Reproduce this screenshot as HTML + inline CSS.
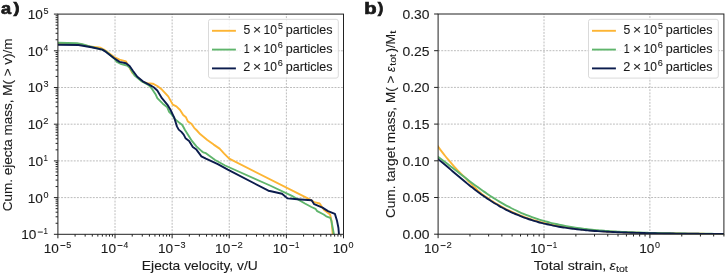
<!DOCTYPE html>
<html><head><meta charset="utf-8"><style>html,body{margin:0;padding:0;background:#fff;width:725px;height:274px;overflow:hidden}svg{display:block;filter:blur(0.3px)}</style></head><body>
<svg width="725" height="274" viewBox="0 0 725 274">
<style>text{font-family:"Liberation Sans",sans-serif;fill:#1a1a1a;stroke:#1a1a1a;stroke-width:0.1px}.b{stroke-width:0.7px}.g{stroke:#b4b4b4;stroke-width:0.9;stroke-dasharray:1.9 1.28}.s{stroke:#222222;stroke-width:1.0}</style>
<rect width="725" height="274" fill="#fff"/>
<defs><clipPath id="ca"><rect x="57.90" y="14.10" width="285.60" height="220.20"/></clipPath>
<clipPath id="cb"><rect x="438.10" y="14.00" width="285.80" height="220.20"/></clipPath></defs>
<line x1="115.02" y1="234.30" x2="115.02" y2="14.10" class="g"/>
<line x1="172.14" y1="234.30" x2="172.14" y2="14.10" class="g"/>
<line x1="229.26" y1="234.30" x2="229.26" y2="14.10" class="g"/>
<line x1="286.38" y1="234.30" x2="286.38" y2="14.10" class="g"/>
<line x1="57.90" y1="50.80" x2="343.50" y2="50.80" class="g"/>
<line x1="57.90" y1="87.50" x2="343.50" y2="87.50" class="g"/>
<line x1="57.90" y1="124.20" x2="343.50" y2="124.20" class="g"/>
<line x1="57.90" y1="160.90" x2="343.50" y2="160.90" class="g"/>
<line x1="57.90" y1="197.60" x2="343.50" y2="197.60" class="g"/>
<path d="M58.00,43.60 L80.00,44.20 L89.60,46.40 L100.60,47.80 L104.00,49.50 L114.20,57.00 L119.60,59.60 L126.00,61.40 L132.30,72.80 L142.80,81.90 L147.30,83.20 L152.80,83.70 L157.30,86.00 L161.90,89.60 L168.20,96.40 L172.80,104.60 L176.40,106.40 L180.10,110.00 L183.20,115.00 L186.00,117.30 L187.80,121.40 L191.40,123.70 L194.20,127.80 L196.90,130.50 L200.10,134.10 L207.30,140.00 L213.70,144.60 L219.60,148.60 L224.20,153.70 L229.20,158.70 L308.30,198.60 L314.20,202.10 L319.70,203.50 L323.90,209.70 L330.10,214.50 L331.50,220.80 L332.90,236.00" fill="none" stroke="#fdb534" stroke-width="1.90" stroke-linejoin="round" clip-path="url(#ca)"/>
<path d="M58.00,42.70 L76.90,43.20 L82.30,44.10 L88.00,46.00 L102.40,49.60 L106.00,51.50 L114.20,58.50 L116.90,61.90 L121.40,64.10 L126.90,65.50 L129.60,67.50 L134.60,75.50 L141.90,81.40 L149.10,85.50 L151.90,88.70 L155.50,94.20 L157.30,98.20 L162.80,103.70 L167.30,107.30 L169.10,111.90 L171.90,114.60 L175.00,119.10 L178.70,122.30 L182.30,125.00 L185.00,130.00 L189.10,136.40 L191.90,140.90 L196.40,146.40 L201.90,151.40 L203.20,152.30 L205.90,153.20 L215.10,160.00 L225.10,165.50 L270.00,185.50 L291.90,195.90 L304.90,203.50 L311.40,207.00 L315.50,208.80 L317.20,211.20 L323.70,214.50 L326.20,216.30 L330.30,217.80 L331.50,221.30 L334.20,236.00" fill="none" stroke="#5fb56c" stroke-width="1.90" stroke-linejoin="round" clip-path="url(#ca)"/>
<path d="M58.00,44.70 L78.50,45.00 L91.50,47.30 L102.40,49.60 L106.00,51.90 L114.20,58.20 L119.60,61.90 L126.00,63.20 L129.60,66.00 L132.70,70.50 L137.30,76.80 L143.70,81.90 L149.10,84.60 L153.70,87.30 L157.30,90.50 L161.90,98.20 L167.30,104.60 L170.30,109.50 L174.10,117.30 L176.90,126.40 L178.70,129.60 L181.40,131.90 L183.70,134.60 L185.50,138.20 L189.10,140.90 L192.80,146.90 L196.40,149.60 L200.10,154.60 L201.40,156.40 L205.90,158.70 L217.80,164.10 L227.80,169.60 L268.40,190.70 L271.00,191.30 L282.00,193.70 L287.50,198.40 L297.40,199.20 L311.60,200.30 L314.20,204.20 L322.50,207.60 L328.00,211.10 L334.90,213.90 L337.00,220.80 L338.40,227.70 L339.10,236.00" fill="none" stroke="#0b1c4d" stroke-width="1.90" stroke-linejoin="round" clip-path="url(#ca)"/>
<rect x="57.90" y="14.10" width="285.60" height="220.20" fill="none" class="s"/>
<line x1="57.90" y1="234.30" x2="57.90" y2="238.30" class="s"/>
<line x1="75.09" y1="234.30" x2="75.09" y2="236.60" class="s"/>
<line x1="85.15" y1="234.30" x2="85.15" y2="236.60" class="s"/>
<line x1="92.29" y1="234.30" x2="92.29" y2="236.60" class="s"/>
<line x1="97.83" y1="234.30" x2="97.83" y2="236.60" class="s"/>
<line x1="102.35" y1="234.30" x2="102.35" y2="236.60" class="s"/>
<line x1="106.17" y1="234.30" x2="106.17" y2="236.60" class="s"/>
<line x1="109.48" y1="234.30" x2="109.48" y2="236.60" class="s"/>
<line x1="112.41" y1="234.30" x2="112.41" y2="236.60" class="s"/>
<line x1="115.02" y1="234.30" x2="115.02" y2="238.30" class="s"/>
<line x1="132.21" y1="234.30" x2="132.21" y2="236.60" class="s"/>
<line x1="142.27" y1="234.30" x2="142.27" y2="236.60" class="s"/>
<line x1="149.41" y1="234.30" x2="149.41" y2="236.60" class="s"/>
<line x1="154.95" y1="234.30" x2="154.95" y2="236.60" class="s"/>
<line x1="159.47" y1="234.30" x2="159.47" y2="236.60" class="s"/>
<line x1="163.29" y1="234.30" x2="163.29" y2="236.60" class="s"/>
<line x1="166.60" y1="234.30" x2="166.60" y2="236.60" class="s"/>
<line x1="169.53" y1="234.30" x2="169.53" y2="236.60" class="s"/>
<line x1="172.14" y1="234.30" x2="172.14" y2="238.30" class="s"/>
<line x1="189.33" y1="234.30" x2="189.33" y2="236.60" class="s"/>
<line x1="199.39" y1="234.30" x2="199.39" y2="236.60" class="s"/>
<line x1="206.53" y1="234.30" x2="206.53" y2="236.60" class="s"/>
<line x1="212.07" y1="234.30" x2="212.07" y2="236.60" class="s"/>
<line x1="216.59" y1="234.30" x2="216.59" y2="236.60" class="s"/>
<line x1="220.41" y1="234.30" x2="220.41" y2="236.60" class="s"/>
<line x1="223.72" y1="234.30" x2="223.72" y2="236.60" class="s"/>
<line x1="226.65" y1="234.30" x2="226.65" y2="236.60" class="s"/>
<line x1="229.26" y1="234.30" x2="229.26" y2="238.30" class="s"/>
<line x1="246.45" y1="234.30" x2="246.45" y2="236.60" class="s"/>
<line x1="256.51" y1="234.30" x2="256.51" y2="236.60" class="s"/>
<line x1="263.65" y1="234.30" x2="263.65" y2="236.60" class="s"/>
<line x1="269.19" y1="234.30" x2="269.19" y2="236.60" class="s"/>
<line x1="273.71" y1="234.30" x2="273.71" y2="236.60" class="s"/>
<line x1="277.53" y1="234.30" x2="277.53" y2="236.60" class="s"/>
<line x1="280.84" y1="234.30" x2="280.84" y2="236.60" class="s"/>
<line x1="283.77" y1="234.30" x2="283.77" y2="236.60" class="s"/>
<line x1="286.38" y1="234.30" x2="286.38" y2="238.30" class="s"/>
<line x1="303.57" y1="234.30" x2="303.57" y2="236.60" class="s"/>
<line x1="313.63" y1="234.30" x2="313.63" y2="236.60" class="s"/>
<line x1="320.77" y1="234.30" x2="320.77" y2="236.60" class="s"/>
<line x1="326.31" y1="234.30" x2="326.31" y2="236.60" class="s"/>
<line x1="330.83" y1="234.30" x2="330.83" y2="236.60" class="s"/>
<line x1="334.65" y1="234.30" x2="334.65" y2="236.60" class="s"/>
<line x1="337.96" y1="234.30" x2="337.96" y2="236.60" class="s"/>
<line x1="340.89" y1="234.30" x2="340.89" y2="236.60" class="s"/>
<line x1="343.50" y1="234.30" x2="343.50" y2="238.30" class="s"/>
<line x1="53.90" y1="234.30" x2="57.90" y2="234.30" class="s"/>
<line x1="55.60" y1="223.25" x2="57.90" y2="223.25" class="s"/>
<line x1="55.60" y1="216.79" x2="57.90" y2="216.79" class="s"/>
<line x1="55.60" y1="212.20" x2="57.90" y2="212.20" class="s"/>
<line x1="55.60" y1="208.65" x2="57.90" y2="208.65" class="s"/>
<line x1="55.60" y1="205.74" x2="57.90" y2="205.74" class="s"/>
<line x1="55.60" y1="203.28" x2="57.90" y2="203.28" class="s"/>
<line x1="55.60" y1="201.16" x2="57.90" y2="201.16" class="s"/>
<line x1="55.60" y1="199.28" x2="57.90" y2="199.28" class="s"/>
<line x1="53.90" y1="197.60" x2="57.90" y2="197.60" class="s"/>
<line x1="55.60" y1="186.55" x2="57.90" y2="186.55" class="s"/>
<line x1="55.60" y1="180.09" x2="57.90" y2="180.09" class="s"/>
<line x1="55.60" y1="175.50" x2="57.90" y2="175.50" class="s"/>
<line x1="55.60" y1="171.95" x2="57.90" y2="171.95" class="s"/>
<line x1="55.60" y1="169.04" x2="57.90" y2="169.04" class="s"/>
<line x1="55.60" y1="166.58" x2="57.90" y2="166.58" class="s"/>
<line x1="55.60" y1="164.46" x2="57.90" y2="164.46" class="s"/>
<line x1="55.60" y1="162.58" x2="57.90" y2="162.58" class="s"/>
<line x1="53.90" y1="160.90" x2="57.90" y2="160.90" class="s"/>
<line x1="55.60" y1="149.85" x2="57.90" y2="149.85" class="s"/>
<line x1="55.60" y1="143.39" x2="57.90" y2="143.39" class="s"/>
<line x1="55.60" y1="138.80" x2="57.90" y2="138.80" class="s"/>
<line x1="55.60" y1="135.25" x2="57.90" y2="135.25" class="s"/>
<line x1="55.60" y1="132.34" x2="57.90" y2="132.34" class="s"/>
<line x1="55.60" y1="129.88" x2="57.90" y2="129.88" class="s"/>
<line x1="55.60" y1="127.76" x2="57.90" y2="127.76" class="s"/>
<line x1="55.60" y1="125.88" x2="57.90" y2="125.88" class="s"/>
<line x1="53.90" y1="124.20" x2="57.90" y2="124.20" class="s"/>
<line x1="55.60" y1="113.15" x2="57.90" y2="113.15" class="s"/>
<line x1="55.60" y1="106.69" x2="57.90" y2="106.69" class="s"/>
<line x1="55.60" y1="102.10" x2="57.90" y2="102.10" class="s"/>
<line x1="55.60" y1="98.55" x2="57.90" y2="98.55" class="s"/>
<line x1="55.60" y1="95.64" x2="57.90" y2="95.64" class="s"/>
<line x1="55.60" y1="93.18" x2="57.90" y2="93.18" class="s"/>
<line x1="55.60" y1="91.06" x2="57.90" y2="91.06" class="s"/>
<line x1="55.60" y1="89.18" x2="57.90" y2="89.18" class="s"/>
<line x1="53.90" y1="87.50" x2="57.90" y2="87.50" class="s"/>
<line x1="55.60" y1="76.45" x2="57.90" y2="76.45" class="s"/>
<line x1="55.60" y1="69.99" x2="57.90" y2="69.99" class="s"/>
<line x1="55.60" y1="65.40" x2="57.90" y2="65.40" class="s"/>
<line x1="55.60" y1="61.85" x2="57.90" y2="61.85" class="s"/>
<line x1="55.60" y1="58.94" x2="57.90" y2="58.94" class="s"/>
<line x1="55.60" y1="56.48" x2="57.90" y2="56.48" class="s"/>
<line x1="55.60" y1="54.36" x2="57.90" y2="54.36" class="s"/>
<line x1="55.60" y1="52.48" x2="57.90" y2="52.48" class="s"/>
<line x1="53.90" y1="50.80" x2="57.90" y2="50.80" class="s"/>
<line x1="55.60" y1="39.75" x2="57.90" y2="39.75" class="s"/>
<line x1="55.60" y1="33.29" x2="57.90" y2="33.29" class="s"/>
<line x1="55.60" y1="28.70" x2="57.90" y2="28.70" class="s"/>
<line x1="55.60" y1="25.15" x2="57.90" y2="25.15" class="s"/>
<line x1="55.60" y1="22.24" x2="57.90" y2="22.24" class="s"/>
<line x1="55.60" y1="19.78" x2="57.90" y2="19.78" class="s"/>
<line x1="55.60" y1="17.66" x2="57.90" y2="17.66" class="s"/>
<line x1="55.60" y1="15.78" x2="57.90" y2="15.78" class="s"/>
<line x1="53.90" y1="14.10" x2="57.90" y2="14.10" class="s"/>
<text x="43.76" y="252.60" font-size="12.40" textLength="15.17" lengthAdjust="spacingAndGlyphs">10</text>
<rect x="60.40" y="245.00" width="5.00" height="0.95" fill="#1a1a1a"/>
<text x="66.34" y="247.60" font-size="8.90" textLength="5.04" lengthAdjust="spacingAndGlyphs">5</text>
<text x="100.88" y="252.60" font-size="12.40" textLength="15.17" lengthAdjust="spacingAndGlyphs">10</text>
<rect x="117.52" y="245.00" width="5.00" height="0.95" fill="#1a1a1a"/>
<text x="123.62" y="247.60" font-size="8.90" textLength="4.75" lengthAdjust="spacingAndGlyphs">4</text>
<text x="158.00" y="252.60" font-size="12.40" textLength="15.17" lengthAdjust="spacingAndGlyphs">10</text>
<rect x="174.64" y="245.00" width="5.00" height="0.95" fill="#1a1a1a"/>
<text x="180.59" y="247.60" font-size="8.90" textLength="5.04" lengthAdjust="spacingAndGlyphs">3</text>
<text x="215.12" y="252.60" font-size="12.40" textLength="15.17" lengthAdjust="spacingAndGlyphs">10</text>
<rect x="231.76" y="245.00" width="5.00" height="0.95" fill="#1a1a1a"/>
<text x="237.59" y="247.60" font-size="8.90" textLength="5.25" lengthAdjust="spacingAndGlyphs">2</text>
<text x="272.69" y="252.60" font-size="12.40" textLength="15.17" lengthAdjust="spacingAndGlyphs">10</text>
<rect x="289.33" y="245.00" width="5.00" height="0.95" fill="#1a1a1a"/>
<text x="295.03" y="247.60" font-size="8.90" textLength="4.39" lengthAdjust="spacingAndGlyphs">1</text>
<text x="332.81" y="252.60" font-size="12.40" textLength="15.17" lengthAdjust="spacingAndGlyphs">10</text>
<text x="348.50" y="247.60" font-size="8.90" textLength="5.00" lengthAdjust="spacingAndGlyphs">0</text>
<text x="21.16" y="239.20" font-size="12.40" textLength="15.17" lengthAdjust="spacingAndGlyphs">10</text>
<rect x="37.80" y="231.60" width="5.00" height="0.95" fill="#1a1a1a"/>
<text x="43.50" y="234.20" font-size="8.90" textLength="4.39" lengthAdjust="spacingAndGlyphs">1</text>
<text x="27.76" y="202.50" font-size="12.40" textLength="15.17" lengthAdjust="spacingAndGlyphs">10</text>
<text x="43.45" y="197.50" font-size="8.90" textLength="5.00" lengthAdjust="spacingAndGlyphs">0</text>
<text x="28.06" y="165.80" font-size="12.40" textLength="15.17" lengthAdjust="spacingAndGlyphs">10</text>
<text x="43.50" y="160.80" font-size="8.90" textLength="4.39" lengthAdjust="spacingAndGlyphs">1</text>
<text x="27.76" y="129.10" font-size="12.40" textLength="15.17" lengthAdjust="spacingAndGlyphs">10</text>
<text x="43.33" y="124.10" font-size="8.90" textLength="5.25" lengthAdjust="spacingAndGlyphs">2</text>
<text x="27.76" y="92.40" font-size="12.40" textLength="15.17" lengthAdjust="spacingAndGlyphs">10</text>
<text x="43.45" y="87.40" font-size="8.90" textLength="5.04" lengthAdjust="spacingAndGlyphs">3</text>
<text x="27.76" y="55.70" font-size="12.40" textLength="15.17" lengthAdjust="spacingAndGlyphs">10</text>
<text x="43.60" y="50.70" font-size="8.90" textLength="4.75" lengthAdjust="spacingAndGlyphs">4</text>
<text x="27.76" y="19.00" font-size="12.40" textLength="15.17" lengthAdjust="spacingAndGlyphs">10</text>
<text x="43.44" y="14.00" font-size="8.90" textLength="5.04" lengthAdjust="spacingAndGlyphs">5</text>
<rect x="208.50" y="19.3" width="129.8" height="58.8" rx="2.2" fill="#fff" fill-opacity="0.8" stroke="#d6d6d6" stroke-width="0.9"/>
<line x1="212.00" y1="30.80" x2="235.90" y2="30.80" stroke="#fdb534" stroke-width="1.9"/>
<text x="243.51" y="33.90" font-size="12.40" textLength="6.80" lengthAdjust="spacingAndGlyphs">5</text>
<text x="252.94" y="33.90" font-size="12.40" textLength="8.12" lengthAdjust="spacingAndGlyphs">×</text>
<text x="263.58" y="33.90" font-size="12.40" textLength="13.39" lengthAdjust="spacingAndGlyphs">10</text>
<text x="277.95" y="28.90" font-size="8.90" textLength="4.93" lengthAdjust="spacingAndGlyphs">5</text>
<text x="285.89" y="33.90" font-size="12.40" textLength="46.66" lengthAdjust="spacingAndGlyphs">particles</text>
<line x1="212.00" y1="49.60" x2="235.90" y2="49.60" stroke="#5fb56c" stroke-width="1.9"/>
<text x="243.79" y="52.65" font-size="12.40" textLength="5.93" lengthAdjust="spacingAndGlyphs">1</text>
<text x="252.94" y="52.65" font-size="12.40" textLength="8.12" lengthAdjust="spacingAndGlyphs">×</text>
<text x="263.58" y="52.65" font-size="12.40" textLength="13.39" lengthAdjust="spacingAndGlyphs">10</text>
<text x="277.84" y="47.65" font-size="8.90" textLength="5.06" lengthAdjust="spacingAndGlyphs">6</text>
<text x="285.89" y="52.65" font-size="12.40" textLength="46.66" lengthAdjust="spacingAndGlyphs">particles</text>
<line x1="212.00" y1="68.40" x2="235.90" y2="68.40" stroke="#0b1c4d" stroke-width="1.9"/>
<text x="243.36" y="71.40" font-size="12.40" textLength="7.08" lengthAdjust="spacingAndGlyphs">2</text>
<text x="252.94" y="71.40" font-size="12.40" textLength="8.12" lengthAdjust="spacingAndGlyphs">×</text>
<text x="263.58" y="71.40" font-size="12.40" textLength="13.39" lengthAdjust="spacingAndGlyphs">10</text>
<text x="277.84" y="66.40" font-size="8.90" textLength="5.06" lengthAdjust="spacingAndGlyphs">6</text>
<text x="285.89" y="71.40" font-size="12.40" textLength="46.66" lengthAdjust="spacingAndGlyphs">particles</text>
<text x="1.07" y="13.90" font-size="17.00" textLength="10.12" lengthAdjust="spacingAndGlyphs" font-weight="bold" class="b">a</text>
<text x="13.48" y="13.20" font-size="15.20" textLength="6.02" lengthAdjust="spacingAndGlyphs" font-weight="bold" class="b">)</text>
<text x="141.87" y="270.20" font-size="12.60" textLength="115.88" lengthAdjust="spacingAndGlyphs">Ejecta velocity, v/U</text>
<g transform="translate(11.9,0) rotate(-90)">
<text x="-211.29" y="0.00" font-size="12.60" textLength="172.88" lengthAdjust="spacingAndGlyphs">Cum. ejecta mass, M( &gt; v)/m</text>
</g>
<line x1="544.00" y1="234.20" x2="544.00" y2="14.00" class="g"/>
<line x1="649.90" y1="234.20" x2="649.90" y2="14.00" class="g"/>
<line x1="438.10" y1="197.50" x2="723.90" y2="197.50" class="g"/>
<line x1="438.10" y1="160.80" x2="723.90" y2="160.80" class="g"/>
<line x1="438.10" y1="124.10" x2="723.90" y2="124.10" class="g"/>
<line x1="438.10" y1="87.40" x2="723.90" y2="87.40" class="g"/>
<line x1="438.10" y1="50.70" x2="723.90" y2="50.70" class="g"/>
<path d="M436.00,143.64 C436.50,144.35 438.00,146.50 439.00,147.88 C440.00,149.26 441.00,150.60 442.00,151.92 C443.00,153.23 444.00,154.52 445.00,155.77 C446.00,157.03 447.00,158.25 448.00,159.45 C449.00,160.65 450.00,161.81 451.00,162.96 C452.00,164.10 453.00,165.22 454.00,166.32 C455.00,167.41 456.00,168.48 457.00,169.54 C458.00,170.59 459.00,171.62 460.00,172.64 C461.00,173.67 462.00,174.67 463.00,175.68 C464.00,176.68 465.00,177.68 466.00,178.69 C467.00,179.69 468.00,180.71 469.00,181.72 C470.00,182.74 471.00,183.78 472.00,184.79 C473.00,185.80 474.00,186.82 475.00,187.79 C476.00,188.76 477.00,189.70 478.00,190.59 C479.00,191.48 480.00,192.33 481.00,193.14 C482.00,193.96 483.00,194.73 484.00,195.47 C485.00,196.22 486.00,196.94 487.00,197.64 C488.00,198.33 489.00,199.01 490.00,199.67 C491.00,200.33 492.00,200.97 493.00,201.60 C494.00,202.23 495.00,202.84 496.00,203.44 C497.00,204.04 498.00,204.62 499.00,205.19 C500.00,205.77 501.00,206.32 502.00,206.87 C503.00,207.41 504.00,207.95 505.00,208.47 C506.00,208.99 507.00,209.49 508.00,209.99 C509.00,210.48 510.00,210.96 511.00,211.43 C512.00,211.90 513.00,212.36 514.00,212.80 C515.00,213.25 516.00,213.68 517.00,214.10 C518.00,214.53 519.00,214.94 520.00,215.34 C521.00,215.73 522.00,216.12 523.00,216.50 C524.00,216.88 525.00,217.24 526.00,217.60 C527.00,217.95 528.00,218.30 529.00,218.64 C530.00,218.97 531.00,219.30 532.00,219.61 C533.00,219.93 534.00,220.23 535.00,220.53 C536.00,220.83 537.00,221.11 538.00,221.39 C539.00,221.67 540.00,221.94 541.00,222.20 C542.00,222.47 543.00,222.72 544.00,222.96 C545.00,223.21 546.00,223.45 547.00,223.68 C548.00,223.91 549.00,224.13 550.00,224.34 C551.00,224.56 552.00,224.77 553.00,224.97 C554.00,225.17 555.00,225.36 556.00,225.55 C557.00,225.74 558.00,225.92 559.00,226.10 C560.00,226.27 561.00,226.44 562.00,226.60 C563.00,226.77 564.00,226.93 565.00,227.08 C566.00,227.23 567.00,227.37 568.00,227.52 C569.00,227.67 570.00,227.82 571.00,227.97 C572.00,228.11 573.00,228.25 574.00,228.39 C575.00,228.52 576.00,228.66 577.00,228.78 C578.00,228.91 579.00,229.03 580.00,229.15 C581.00,229.27 582.00,229.38 583.00,229.49 C584.00,229.60 585.00,229.70 586.00,229.80 C587.00,229.91 588.00,230.00 589.00,230.10 C590.00,230.19 591.00,230.28 592.00,230.37 C593.00,230.46 594.00,230.54 595.00,230.62 C596.00,230.71 597.00,230.78 598.00,230.86 C599.00,230.94 600.00,231.01 601.00,231.08 C602.00,231.15 603.00,231.22 604.00,231.28 C605.00,231.35 606.00,231.41 607.00,231.47 C608.00,231.53 609.00,231.59 610.00,231.64 C611.00,231.70 612.00,231.75 613.00,231.81 C614.00,231.86 615.00,231.91 616.00,231.96 C617.00,232.00 618.00,232.05 619.00,232.10 C620.00,232.14 621.00,232.18 622.00,232.23 C623.00,232.27 624.00,232.31 625.00,232.35 C626.00,232.38 627.00,232.42 628.00,232.46 C629.00,232.49 630.00,232.53 631.00,232.56 C632.00,232.59 633.00,232.63 634.00,232.66 C635.00,232.69 636.00,232.72 637.00,232.75 C638.00,232.78 639.00,232.80 640.00,232.83 C641.00,232.86 642.00,232.89 643.00,232.91 C644.00,232.94 645.00,232.96 646.00,232.99 C647.00,233.01 648.00,233.03 649.00,233.06 C650.00,233.08 651.00,233.10 652.00,233.12 C653.00,233.15 654.00,233.17 655.00,233.19 C656.00,233.21 657.00,233.23 658.00,233.25 C659.00,233.27 660.00,233.28 661.00,233.30 C662.00,233.32 663.00,233.34 664.00,233.35 C665.00,233.37 666.00,233.39 667.00,233.40 C668.00,233.42 669.00,233.44 670.00,233.45 C671.00,233.47 672.00,233.48 673.00,233.49 C674.00,233.51 675.00,233.52 676.00,233.54 C677.00,233.55 678.00,233.56 679.00,233.57 C680.00,233.59 681.00,233.60 682.00,233.61 C683.00,233.62 684.00,233.63 685.00,233.65 C686.00,233.66 687.00,233.67 688.00,233.68 C689.00,233.69 690.00,233.70 691.00,233.71 C692.00,233.72 693.00,233.73 694.00,233.74 C695.00,233.75 696.00,233.76 697.00,233.76 C698.00,233.77 699.00,233.78 700.00,233.79 C701.00,233.80 702.00,233.81 703.00,233.81 C704.00,233.82 705.00,233.83 706.00,233.84 C707.00,233.84 708.00,233.85 709.00,233.86 C710.00,233.86 711.00,233.87 712.00,233.88 C713.00,233.88 714.00,233.89 715.00,233.90 C716.00,233.90 717.00,233.91 718.00,233.91 C719.00,233.92 720.00,233.93 721.00,233.93 C722.00,233.94 723.00,233.94 724.00,233.95 C725.00,233.95 726.50,233.96 727.00,233.96" fill="none" stroke="#fdb534" stroke-width="1.90" stroke-linejoin="round" clip-path="url(#cb)"/>
<path d="M436.00,155.42 C436.50,155.79 438.00,156.87 439.00,157.60 C440.00,158.33 441.00,159.07 442.00,159.82 C443.00,160.57 444.00,161.32 445.00,162.08 C446.00,162.83 447.00,163.60 448.00,164.36 C449.00,165.13 450.00,165.90 451.00,166.67 C452.00,167.45 453.00,168.22 454.00,169.00 C455.00,169.78 456.00,170.56 457.00,171.34 C458.00,172.12 459.00,172.90 460.00,173.68 C461.00,174.46 462.00,175.24 463.00,176.01 C464.00,176.79 465.00,177.56 466.00,178.33 C467.00,179.10 468.00,179.87 469.00,180.63 C470.00,181.40 471.00,182.16 472.00,182.91 C473.00,183.66 474.00,184.41 475.00,185.15 C476.00,185.89 477.00,186.63 478.00,187.36 C479.00,188.09 480.00,188.81 481.00,189.52 C482.00,190.23 483.00,190.94 484.00,191.63 C485.00,192.33 486.00,193.02 487.00,193.69 C488.00,194.37 489.00,195.04 490.00,195.70 C491.00,196.36 492.00,197.01 493.00,197.64 C494.00,198.28 495.00,198.91 496.00,199.53 C497.00,200.15 498.00,200.76 499.00,201.35 C500.00,201.95 501.00,202.53 502.00,203.11 C503.00,203.68 504.00,204.25 505.00,204.80 C506.00,205.35 507.00,205.90 508.00,206.43 C509.00,206.96 510.00,207.48 511.00,207.98 C512.00,208.49 513.00,208.99 514.00,209.48 C515.00,209.96 516.00,210.44 517.00,210.90 C518.00,211.37 519.00,211.82 520.00,212.26 C521.00,212.71 522.00,213.14 523.00,213.56 C524.00,213.98 525.00,214.39 526.00,214.79 C527.00,215.19 528.00,215.58 529.00,215.96 C530.00,216.34 531.00,216.71 532.00,217.08 C533.00,217.44 534.00,217.79 535.00,218.13 C536.00,218.47 537.00,218.80 538.00,219.12 C539.00,219.45 540.00,219.76 541.00,220.07 C542.00,220.37 543.00,220.67 544.00,220.95 C545.00,221.24 546.00,221.52 547.00,221.79 C548.00,222.06 549.00,222.33 550.00,222.58 C551.00,222.84 552.00,223.09 553.00,223.33 C554.00,223.57 555.00,223.80 556.00,224.02 C557.00,224.25 558.00,224.47 559.00,224.68 C560.00,224.89 561.00,225.10 562.00,225.30 C563.00,225.49 564.00,225.69 565.00,225.87 C566.00,226.06 567.00,226.24 568.00,226.41 C569.00,226.59 570.00,226.76 571.00,226.92 C572.00,227.08 573.00,227.24 574.00,227.40 C575.00,227.55 576.00,227.70 577.00,227.84 C578.00,227.98 579.00,228.12 580.00,228.25 C581.00,228.39 582.00,228.52 583.00,228.64 C584.00,228.77 585.00,228.89 586.00,229.00 C587.00,229.12 588.00,229.23 589.00,229.34 C590.00,229.45 591.00,229.55 592.00,229.65 C593.00,229.76 594.00,229.85 595.00,229.95 C596.00,230.04 597.00,230.13 598.00,230.22 C599.00,230.31 600.00,230.39 601.00,230.48 C602.00,230.56 603.00,230.64 604.00,230.71 C605.00,230.79 606.00,230.86 607.00,230.94 C608.00,231.01 609.00,231.08 610.00,231.14 C611.00,231.21 612.00,231.27 613.00,231.33 C614.00,231.39 615.00,231.45 616.00,231.51 C617.00,231.57 618.00,231.62 619.00,231.68 C620.00,231.73 621.00,231.78 622.00,231.83 C623.00,231.88 624.00,231.93 625.00,231.97 C626.00,232.02 627.00,232.07 628.00,232.11 C629.00,232.15 630.00,232.19 631.00,232.23 C632.00,232.27 633.00,232.31 634.00,232.35 C635.00,232.39 636.00,232.42 637.00,232.46 C638.00,232.49 639.00,232.53 640.00,232.56 C641.00,232.59 642.00,232.62 643.00,232.66 C644.00,232.69 645.00,232.72 646.00,232.75 C647.00,232.78 648.00,232.80 649.00,232.83 C650.00,232.86 651.00,232.89 652.00,232.91 C653.00,232.94 654.00,232.96 655.00,232.99 C656.00,233.01 657.00,233.04 658.00,233.06 C659.00,233.08 660.00,233.10 661.00,233.13 C662.00,233.15 663.00,233.17 664.00,233.19 C665.00,233.21 666.00,233.23 667.00,233.25 C668.00,233.27 669.00,233.29 670.00,233.30 C671.00,233.32 672.00,233.34 673.00,233.36 C674.00,233.37 675.00,233.39 676.00,233.41 C677.00,233.42 678.00,233.44 679.00,233.45 C680.00,233.47 681.00,233.48 682.00,233.50 C683.00,233.51 684.00,233.52 685.00,233.54 C686.00,233.55 687.00,233.56 688.00,233.58 C689.00,233.59 690.00,233.60 691.00,233.61 C692.00,233.62 693.00,233.64 694.00,233.65 C695.00,233.66 696.00,233.67 697.00,233.68 C698.00,233.69 699.00,233.70 700.00,233.71 C701.00,233.72 702.00,233.73 703.00,233.74 C704.00,233.75 705.00,233.76 706.00,233.77 C707.00,233.78 708.00,233.78 709.00,233.79 C710.00,233.80 711.00,233.81 712.00,233.82 C713.00,233.82 714.00,233.83 715.00,233.84 C716.00,233.85 717.00,233.85 718.00,233.86 C719.00,233.87 720.00,233.87 721.00,233.88 C722.00,233.89 723.00,233.89 724.00,233.90 C725.00,233.90 726.50,233.91 727.00,233.92" fill="none" stroke="#5fb56c" stroke-width="1.90" stroke-linejoin="round" clip-path="url(#cb)"/>
<path d="M436.00,157.50 C436.50,157.90 438.00,159.07 439.00,159.87 C440.00,160.67 441.00,161.49 442.00,162.31 C443.00,163.13 444.00,163.97 445.00,164.81 C446.00,165.64 447.00,166.49 448.00,167.34 C449.00,168.19 450.00,169.04 451.00,169.90 C452.00,170.75 453.00,171.61 454.00,172.46 C455.00,173.31 456.00,174.17 457.00,175.02 C458.00,175.87 459.00,176.72 460.00,177.56 C461.00,178.40 462.00,179.24 463.00,180.08 C464.00,180.91 465.00,181.74 466.00,182.56 C467.00,183.37 468.00,184.19 469.00,184.99 C470.00,185.79 471.00,186.59 472.00,187.37 C473.00,188.16 474.00,188.93 475.00,189.70 C476.00,190.46 477.00,191.22 478.00,191.96 C479.00,192.71 480.00,193.44 481.00,194.16 C482.00,194.88 483.00,195.59 484.00,196.29 C485.00,196.98 486.00,197.67 487.00,198.34 C488.00,199.01 489.00,199.67 490.00,200.32 C491.00,200.97 492.00,201.60 493.00,202.22 C494.00,202.85 495.00,203.46 496.00,204.05 C497.00,204.65 498.00,205.23 499.00,205.80 C500.00,206.37 501.00,206.93 502.00,207.47 C503.00,208.02 504.00,208.55 505.00,209.07 C506.00,209.59 507.00,210.09 508.00,210.59 C509.00,211.08 510.00,211.56 511.00,212.03 C512.00,212.50 513.00,212.96 514.00,213.40 C515.00,213.85 516.00,214.28 517.00,214.70 C518.00,215.13 519.00,215.54 520.00,215.94 C521.00,216.33 522.00,216.72 523.00,217.10 C524.00,217.48 525.00,217.84 526.00,218.20 C527.00,218.55 528.00,218.90 529.00,219.24 C530.00,219.57 531.00,219.90 532.00,220.21 C533.00,220.53 534.00,220.83 535.00,221.13 C536.00,221.43 537.00,221.71 538.00,221.99 C539.00,222.27 540.00,222.54 541.00,222.80 C542.00,223.07 543.00,223.32 544.00,223.56 C545.00,223.81 546.00,224.05 547.00,224.28 C548.00,224.51 549.00,224.73 550.00,224.94 C551.00,225.16 552.00,225.37 553.00,225.57 C554.00,225.77 555.00,225.96 556.00,226.15 C557.00,226.34 558.00,226.52 559.00,226.70 C560.00,226.87 561.00,227.04 562.00,227.20 C563.00,227.37 564.00,227.53 565.00,227.68 C566.00,227.83 567.00,227.98 568.00,228.12 C569.00,228.26 570.00,228.40 571.00,228.53 C572.00,228.67 573.00,228.79 574.00,228.92 C575.00,229.04 576.00,229.16 577.00,229.27 C578.00,229.39 579.00,229.50 580.00,229.61 C581.00,229.71 582.00,229.82 583.00,229.92 C584.00,230.02 585.00,230.11 586.00,230.20 C587.00,230.30 588.00,230.38 589.00,230.47 C590.00,230.56 591.00,230.64 592.00,230.72 C593.00,230.80 594.00,230.88 595.00,230.95 C596.00,231.02 597.00,231.09 598.00,231.16 C599.00,231.23 600.00,231.30 601.00,231.36 C602.00,231.43 603.00,231.49 604.00,231.55 C605.00,231.61 606.00,231.66 607.00,231.72 C608.00,231.77 609.00,231.83 610.00,231.88 C611.00,231.93 612.00,231.98 613.00,232.02 C614.00,232.07 615.00,232.12 616.00,232.16 C617.00,232.20 618.00,232.25 619.00,232.29 C620.00,232.33 621.00,232.37 622.00,232.41 C623.00,232.44 624.00,232.48 625.00,232.51 C626.00,232.55 627.00,232.58 628.00,232.62 C629.00,232.65 630.00,232.68 631.00,232.71 C632.00,232.74 633.00,232.77 634.00,232.80 C635.00,232.82 636.00,232.85 637.00,232.88 C638.00,232.91 639.00,232.93 640.00,232.96 C641.00,232.98 642.00,233.01 643.00,233.03 C644.00,233.05 645.00,233.08 646.00,233.10 C647.00,233.12 648.00,233.14 649.00,233.16 C650.00,233.18 651.00,233.20 652.00,233.22 C653.00,233.24 654.00,233.26 655.00,233.28 C656.00,233.30 657.00,233.32 658.00,233.33 C659.00,233.35 660.00,233.37 661.00,233.38 C662.00,233.40 663.00,233.42 664.00,233.43 C665.00,233.45 666.00,233.46 667.00,233.48 C668.00,233.49 669.00,233.51 670.00,233.52 C671.00,233.53 672.00,233.55 673.00,233.56 C674.00,233.57 675.00,233.58 676.00,233.60 C677.00,233.61 678.00,233.62 679.00,233.63 C680.00,233.64 681.00,233.65 682.00,233.66 C683.00,233.68 684.00,233.69 685.00,233.70 C686.00,233.71 687.00,233.72 688.00,233.73 C689.00,233.74 690.00,233.74 691.00,233.75 C692.00,233.76 693.00,233.77 694.00,233.78 C695.00,233.79 696.00,233.80 697.00,233.80 C698.00,233.81 699.00,233.82 700.00,233.83 C701.00,233.83 702.00,233.84 703.00,233.85 C704.00,233.86 705.00,233.86 706.00,233.87 C707.00,233.88 708.00,233.88 709.00,233.89 C710.00,233.89 711.00,233.90 712.00,233.91 C713.00,233.91 714.00,233.92 715.00,233.92 C716.00,233.93 717.00,233.93 718.00,233.94 C719.00,233.95 720.00,233.95 721.00,233.96 C722.00,233.96 723.00,233.97 724.00,233.97 C725.00,233.97 726.50,233.98 727.00,233.98" fill="none" stroke="#0b1c4d" stroke-width="1.90" stroke-linejoin="round" clip-path="url(#cb)"/>
<rect x="438.10" y="14.00" width="285.80" height="220.20" fill="none" class="s"/>
<line x1="438.10" y1="234.20" x2="438.10" y2="238.20" class="s"/>
<line x1="469.98" y1="234.20" x2="469.98" y2="236.50" class="s"/>
<line x1="488.63" y1="234.20" x2="488.63" y2="236.50" class="s"/>
<line x1="501.86" y1="234.20" x2="501.86" y2="236.50" class="s"/>
<line x1="512.12" y1="234.20" x2="512.12" y2="236.50" class="s"/>
<line x1="520.51" y1="234.20" x2="520.51" y2="236.50" class="s"/>
<line x1="527.60" y1="234.20" x2="527.60" y2="236.50" class="s"/>
<line x1="533.74" y1="234.20" x2="533.74" y2="236.50" class="s"/>
<line x1="539.15" y1="234.20" x2="539.15" y2="236.50" class="s"/>
<line x1="544.00" y1="234.20" x2="544.00" y2="238.20" class="s"/>
<line x1="575.88" y1="234.20" x2="575.88" y2="236.50" class="s"/>
<line x1="594.53" y1="234.20" x2="594.53" y2="236.50" class="s"/>
<line x1="607.76" y1="234.20" x2="607.76" y2="236.50" class="s"/>
<line x1="618.02" y1="234.20" x2="618.02" y2="236.50" class="s"/>
<line x1="626.41" y1="234.20" x2="626.41" y2="236.50" class="s"/>
<line x1="633.50" y1="234.20" x2="633.50" y2="236.50" class="s"/>
<line x1="639.64" y1="234.20" x2="639.64" y2="236.50" class="s"/>
<line x1="645.05" y1="234.20" x2="645.05" y2="236.50" class="s"/>
<line x1="649.90" y1="234.20" x2="649.90" y2="238.20" class="s"/>
<line x1="681.78" y1="234.20" x2="681.78" y2="236.50" class="s"/>
<line x1="700.43" y1="234.20" x2="700.43" y2="236.50" class="s"/>
<line x1="713.66" y1="234.20" x2="713.66" y2="236.50" class="s"/>
<line x1="723.92" y1="234.20" x2="723.92" y2="236.50" class="s"/>
<line x1="434.10" y1="234.20" x2="438.10" y2="234.20" class="s"/>
<text x="402.46" y="239.10" font-size="12.40" textLength="26.98" lengthAdjust="spacingAndGlyphs">0.00</text>
<line x1="434.10" y1="197.50" x2="438.10" y2="197.50" class="s"/>
<text x="402.46" y="202.40" font-size="12.40" textLength="27.03" lengthAdjust="spacingAndGlyphs">0.05</text>
<line x1="434.10" y1="160.80" x2="438.10" y2="160.80" class="s"/>
<text x="402.46" y="165.70" font-size="12.40" textLength="26.98" lengthAdjust="spacingAndGlyphs">0.10</text>
<line x1="434.10" y1="124.10" x2="438.10" y2="124.10" class="s"/>
<text x="402.46" y="129.00" font-size="12.40" textLength="27.03" lengthAdjust="spacingAndGlyphs">0.15</text>
<line x1="434.10" y1="87.40" x2="438.10" y2="87.40" class="s"/>
<text x="402.46" y="92.30" font-size="12.40" textLength="26.98" lengthAdjust="spacingAndGlyphs">0.20</text>
<line x1="434.10" y1="50.70" x2="438.10" y2="50.70" class="s"/>
<text x="402.46" y="55.60" font-size="12.40" textLength="27.03" lengthAdjust="spacingAndGlyphs">0.25</text>
<line x1="434.10" y1="14.00" x2="438.10" y2="14.00" class="s"/>
<text x="402.46" y="18.90" font-size="12.40" textLength="26.98" lengthAdjust="spacingAndGlyphs">0.30</text>
<text x="423.96" y="252.70" font-size="12.40" textLength="15.17" lengthAdjust="spacingAndGlyphs">10</text>
<rect x="440.60" y="245.10" width="5.00" height="0.95" fill="#1a1a1a"/>
<text x="446.43" y="247.70" font-size="8.90" textLength="5.25" lengthAdjust="spacingAndGlyphs">2</text>
<text x="530.31" y="252.70" font-size="12.40" textLength="15.17" lengthAdjust="spacingAndGlyphs">10</text>
<rect x="546.95" y="245.10" width="5.00" height="0.95" fill="#1a1a1a"/>
<text x="552.65" y="247.70" font-size="8.90" textLength="4.39" lengthAdjust="spacingAndGlyphs">1</text>
<text x="639.21" y="252.70" font-size="12.40" textLength="15.17" lengthAdjust="spacingAndGlyphs">10</text>
<text x="654.90" y="247.70" font-size="8.90" textLength="5.00" lengthAdjust="spacingAndGlyphs">0</text>
<rect x="588.50" y="19.3" width="129.8" height="58.8" rx="2.2" fill="#fff" fill-opacity="0.8" stroke="#d6d6d6" stroke-width="0.9"/>
<line x1="592.00" y1="30.80" x2="615.90" y2="30.80" stroke="#fdb534" stroke-width="1.9"/>
<text x="623.51" y="33.90" font-size="12.40" textLength="6.80" lengthAdjust="spacingAndGlyphs">5</text>
<text x="632.94" y="33.90" font-size="12.40" textLength="8.12" lengthAdjust="spacingAndGlyphs">×</text>
<text x="643.58" y="33.90" font-size="12.40" textLength="13.39" lengthAdjust="spacingAndGlyphs">10</text>
<text x="657.95" y="28.90" font-size="8.90" textLength="4.93" lengthAdjust="spacingAndGlyphs">5</text>
<text x="665.89" y="33.90" font-size="12.40" textLength="46.66" lengthAdjust="spacingAndGlyphs">particles</text>
<line x1="592.00" y1="49.60" x2="615.90" y2="49.60" stroke="#5fb56c" stroke-width="1.9"/>
<text x="623.79" y="52.65" font-size="12.40" textLength="5.93" lengthAdjust="spacingAndGlyphs">1</text>
<text x="632.94" y="52.65" font-size="12.40" textLength="8.12" lengthAdjust="spacingAndGlyphs">×</text>
<text x="643.58" y="52.65" font-size="12.40" textLength="13.39" lengthAdjust="spacingAndGlyphs">10</text>
<text x="657.84" y="47.65" font-size="8.90" textLength="5.06" lengthAdjust="spacingAndGlyphs">6</text>
<text x="665.89" y="52.65" font-size="12.40" textLength="46.66" lengthAdjust="spacingAndGlyphs">particles</text>
<line x1="592.00" y1="68.40" x2="615.90" y2="68.40" stroke="#0b1c4d" stroke-width="1.9"/>
<text x="623.36" y="71.40" font-size="12.40" textLength="7.08" lengthAdjust="spacingAndGlyphs">2</text>
<text x="632.94" y="71.40" font-size="12.40" textLength="8.12" lengthAdjust="spacingAndGlyphs">×</text>
<text x="643.58" y="71.40" font-size="12.40" textLength="13.39" lengthAdjust="spacingAndGlyphs">10</text>
<text x="657.84" y="66.40" font-size="8.90" textLength="5.06" lengthAdjust="spacingAndGlyphs">6</text>
<text x="665.89" y="71.40" font-size="12.40" textLength="46.66" lengthAdjust="spacingAndGlyphs">particles</text>
<text x="364.17" y="13.90" font-size="17.00" textLength="12.36" lengthAdjust="spacingAndGlyphs" font-weight="bold" class="b">b</text>
<text x="377.88" y="13.20" font-size="15.20" textLength="5.55" lengthAdjust="spacingAndGlyphs" font-weight="bold" class="b">)</text>
<text x="533.79" y="270.00" font-size="12.60" textLength="72.46" lengthAdjust="spacingAndGlyphs">Total strain,</text>
<text x="609.47" y="270.00" font-size="12.60" textLength="6.17" lengthAdjust="spacingAndGlyphs" font-style="italic">ε</text>
<text x="616.04" y="272.30" font-size="8.90" textLength="11.74" lengthAdjust="spacingAndGlyphs">tot</text>
<g transform="translate(394.5,0) rotate(-90)">
<text x="-218.09" y="0.00" font-size="12.60" textLength="142.56" lengthAdjust="spacingAndGlyphs">Cum. target mass, M( &gt;</text>
<text x="-71.90" y="0.00" font-size="12.60" textLength="5.26" lengthAdjust="spacingAndGlyphs" font-style="italic">ε</text>
<text x="-65.76" y="1.80" font-size="8.90" textLength="11.64" lengthAdjust="spacingAndGlyphs">tot</text>
<text x="-52.37" y="0.00" font-size="12.60" textLength="18.42" lengthAdjust="spacingAndGlyphs">)/M</text>
<text x="-33.77" y="1.80" font-size="8.90" textLength="3.16" lengthAdjust="spacingAndGlyphs">t</text>
</g>
</svg>
</body></html>
